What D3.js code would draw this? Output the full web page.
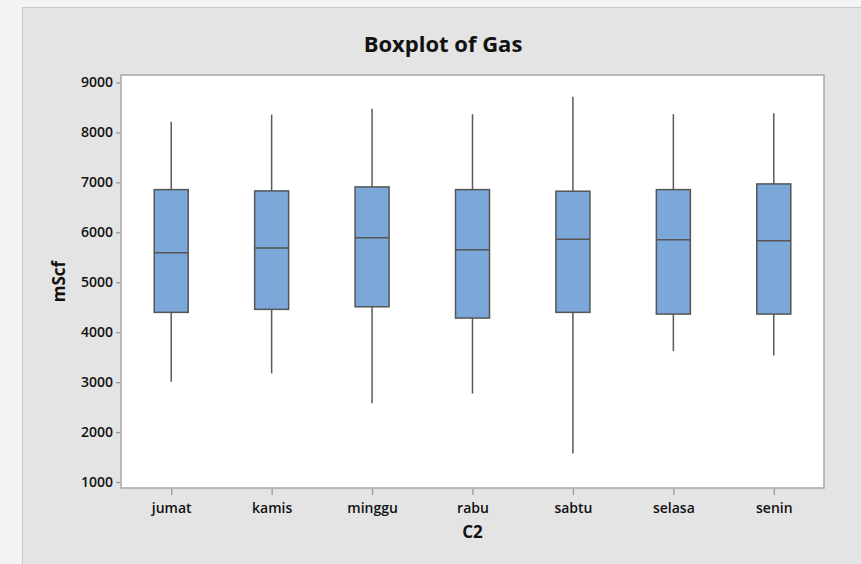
<!DOCTYPE html>
<meta charset="utf-8">
<head>
<style>
  body { margin: 0; background: #f3f3f3; }
  .tick text { font-family: "Open Sans", sans-serif; font-size: 14px; font-weight: 600; fill: #111; }
  .title { font-family: "Open Sans", sans-serif; font-size: 22px; font-weight: 700; fill: #111; }
  .axis-title { font-family: "Open Sans", sans-serif; font-size: 17px; font-weight: 700; fill: #111; }
</style>
<script src="https://d3js.org/d3.v7.min.js"></script>
</head>
<body>
<svg width="861" height="564"></svg>
<script>
// data
var days = ["jumat", "kamis", "minggu", "rabu", "sabtu", "selasa", "senin"];
var whiskLow  = [3006, 3174, 2579, 2773, 1570, 3621, 3535];
var q1        = [4397, 4457, 4509, 4283, 4397, 4363, 4363];
var median    = [5592, 5686, 5893, 5652, 5860, 5852, 5832];
var q3        = [6855, 6829, 6909, 6855, 6823, 6855, 6969];
var whiskHigh = [8212, 8359, 8473, 8366, 8713, 8366, 8386];
var yTicks = [1000, 2000, 3000, 4000, 5000, 6000, 7000, 8000, 9000];

var svg = d3.select("svg");

// grey panel
svg.append("rect")
    .attr("x", 22.5).attr("y", 7.5)
    .attr("width", 850).attr("height", 570)
    .attr("fill", "#e4e4e4")
    .attr("stroke", "#c8c8c8");

var plot = {left: 121, right: 824, top: 75, bottom: 488};

var x = d3.scalePoint()
    .domain(days)
    .range([plot.left, plot.right])
    .padding(0.5);

var y = d3.scaleLinear()
    .domain([880, 9150])
    .range([plot.bottom, plot.top]);

svg.append("rect")
    .attr("x", plot.left).attr("y", plot.top)
    .attr("width", plot.right - plot.left)
    .attr("height", plot.bottom - plot.top)
    .attr("fill", "#fff")
    .attr("stroke", "#a6a6a6")
    .attr("stroke-width", 1.5);

// axes
var yAxis = svg.append("g")
    .attr("transform", "translate(" + (plot.left - 1) + ",0)")
    .call(d3.axisLeft(y).tickValues(yTicks).tickSize(4).tickPadding(3).tickFormat(d3.format("d")));
yAxis.select(".domain").remove();
yAxis.selectAll(".tick line").attr("stroke", "#999").attr("stroke-width", 1.3);

var xAxis = svg.append("g")
    .attr("transform", "translate(0," + (plot.bottom + 1) + ")")
    .call(d3.axisBottom(x).tickSize(6).tickPadding(8));
xAxis.select(".domain").remove();
xAxis.selectAll(".tick line").attr("stroke", "#999").attr("stroke-width", 1.3);

// boxes
var bw = 34;
var boxes = svg.append("g").selectAll("g")
    .data(days)
    .enter().append("g");

boxes.append("line")
    .attr("x1", function(d) { return x(d); })
    .attr("x2", function(d) { return x(d); })
    .attr("y1", function(d, i) { return y(whiskHigh[i]); })
    .attr("y2", function(d, i) { return y(whiskLow[i]); })
    .attr("stroke", "#5a5a5a")
    .attr("stroke-width", 1.5);

boxes.append("rect")
    .attr("x", function(d) { return x(d) - bw / 2; })
    .attr("y", function(d, i) { return y(q3[i]); })
    .attr("width", bw)
    .attr("height", function(d, i) { return y(q1[i]) - y(q3[i]); })
    .attr("fill", "#7ba7d9")
    .attr("stroke", "#555")
    .attr("stroke-width", 1.5);

boxes.append("line")
    .attr("x1", function(d) { return x(d) - bw / 2; })
    .attr("x2", function(d) { return x(d) + bw / 2; })
    .attr("y1", function(d, i) { return y(median[i]); })
    .attr("y2", function(d, i) { return y(median[i]); })
    .attr("stroke", "#555")
    .attr("stroke-width", 1.5);

// titles
svg.append("text")
    .attr("class", "title")
    .attr("x", 443).attr("y", 52)
    .attr("text-anchor", "middle")
    .text("Boxplot of Gas");

svg.append("text")
    .attr("class", "axis-title")
    .attr("x", (plot.left + plot.right) / 2).attr("y", 538)
    .attr("text-anchor", "middle")
    .text("C2");

svg.append("text")
    .attr("class", "axis-title")
    .attr("transform", "translate(65," + (plot.top + plot.bottom) / 2 + ") rotate(-90)")
    .attr("text-anchor", "middle")
    .text("mScf");
</script>
</body>
